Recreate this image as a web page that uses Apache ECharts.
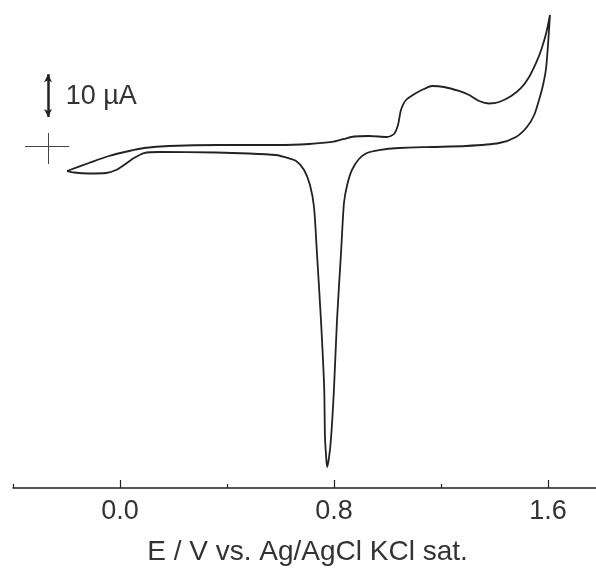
<!DOCTYPE html>
<html>
<head>
<meta charset="utf-8">
<script src="https://cdn.jsdelivr.net/npm/echarts@6/dist/echarts.min.js"></script>
<style>html,body{margin:0;padding:0;background:#fff;}#c{width:596px;height:571px;}</style>
</head>
<body>
<div id="c"></div>
<script>
// Potential (V vs Ag/AgCl) along the sweep: anodic sweep then return sweep
var potential = [
  -0.198,-0.116,-0.041,0.034,0.090,0.183,0.370,0.594,0.707,0.793,0.837,0.875,0.931,0.998,1.024,1.039,1.050,1.069,1.107,1.136,1.166,1.211,1.267,1.305,1.342,1.379,1.417,1.462,1.499,1.529,1.555,1.574,1.593,1.607,
  1.593,1.581,1.566,1.548,1.521,1.480,1.417,1.293,1.166,1.043,0.968,0.923,0.893,0.867,0.849,0.837,0.826,0.811,0.800,0.789,0.781,0.774,0.770,0.766,0.763,0.751,0.736,0.725,0.710,0.688,0.658,0.613,0.583,0.482,0.359,0.146,0.090,0.052,0.015,-0.015,-0.052,-0.116,-0.172,-0.198
];
// Current (µA)
var current = [
  -5.85,-3.98,-2.34,-1.17,-0.47,0.00,0.23,0.23,0.47,0.94,1.64,2.22,2.34,2.11,2.81,4.91,8.42,10.76,12.40,13.33,14.04,13.80,12.87,11.93,10.53,9.94,10.29,11.70,13.57,16.14,19.42,22.46,26.43,30.64,
  18.48,14.27,10.76,7.25,4.44,2.11,0.70,0.00,-0.23,-0.47,-0.94,-1.64,-3.04,-5.61,-9.12,-13.33,-25.03,-40.70,-56.37,-68.07,-72.98,-75.09,-72.30,-68.07,-56.37,-40.70,-25.03,-14.27,-9.12,-5.61,-3.51,-2.57,-2.11,-1.75,-1.52,-1.40,-1.64,-2.81,-4.44,-5.61,-6.32,-6.43,-6.20,-5.85
];
var majorTicks = [0.0, 0.8, 1.6];
var minorTicks = [-0.4, 0.4, 1.2];
var axisTitle = 'E / V vs. Ag/AgCl KCl sat.';
var scaleLabel = '10 \u00b5A';
var scaleBar = [6.8, 16.8];   // µA span of the 10 µA arrow
var scaleBarE = -0.269;
var crossE = [-0.355, -0.19];
var crossI = [-4.21, 3.04];

var data = potential.map(function (e, i) { return [e, current[i]]; });
var font = 'Liberation Sans, Arial, sans-serif';

var chart = echarts.init(document.getElementById('c'));
chart.setOption({
  animation: false,
  backgroundColor: '#fff',
  grid: { left: 13, right: 0, top: 9.2, bottom: 83, containLabel: false },
  xAxis: [{
    type: 'value', min: -0.4, max: 1.779, position: 'bottom',
    axisLine: { onZero: false, lineStyle: { color: '#222', width: 1.5 } },
    axisTick: { inside: true, length: 8, customValues: majorTicks, lineStyle: { color: '#222', width: 1.2 } },
    axisLabel: { customValues: majorTicks, margin: 10, fontSize: 27, fontFamily: font, color: '#333',
      formatter: function (v) { return v.toFixed(1); } },
    splitLine: { show: false },
    name: axisTitle, nameLocation: 'middle', nameGap: 50,
    nameTextStyle: { fontSize: 28, fontFamily: font, color: '#333', padding: [0, 0, 0, 6] }
  }, {
    type: 'value', min: -0.4, max: 1.779, position: 'bottom',
    axisLine: { show: false, onZero: false },
    axisTick: { inside: true, length: 4, customValues: minorTicks, lineStyle: { color: '#222', width: 1.2 } },
    axisLabel: { show: false },
    splitLine: { show: false }
  }],
  yAxis: { type: 'value', min: -80, max: 32, show: false, splitLine: { show: false } },
  series: [{
    type: 'line', data: data, showSymbol: false, smooth: 0.25,
    lineStyle: { color: '#222', width: 1.8 },
    markLine: {
      silent: true, symbol: 'none', label: { show: false },
      data: [
        [{ coord: [crossE[0], 0], lineStyle: { color: '#444', width: 1, type: 'solid' } }, { coord: [crossE[1], 0] }],
        [{ coord: [scaleBarE, crossI[0]], lineStyle: { color: '#444', width: 1, type: 'solid' } }, { coord: [scaleBarE, crossI[1]] }],
        [{ coord: [scaleBarE, scaleBar[0]], symbol: 'arrow', symbolSize: [6, 8], lineStyle: { color: '#222', width: 2.5, type: 'solid' } },
         { coord: [scaleBarE, scaleBar[1]], symbol: 'arrow', symbolSize: [6, 8] }]
      ]
    },
    markPoint: {
      silent: true,
      data: [{ coord: [-0.205, 11.5], symbol: 'circle', symbolSize: 1, itemStyle: { color: 'rgba(0,0,0,0)' },
        label: { show: true, position: 'right', distance: 0, formatter: scaleLabel, fontSize: 27, fontFamily: font, color: '#333' } }]
    }
  }]
});
</script>
</body>
</html>
